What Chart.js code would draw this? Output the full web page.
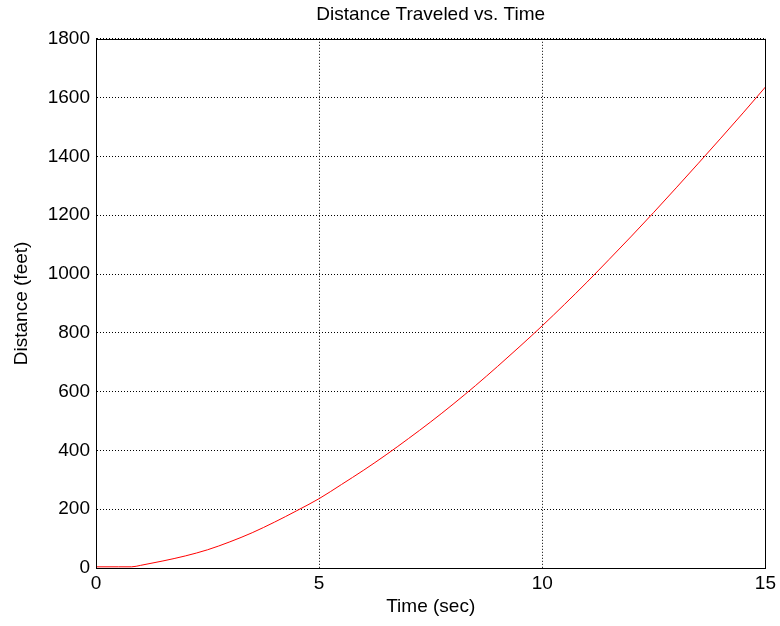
<!DOCTYPE html>
<html>
<head>
<meta charset="utf-8">
<script src="https://cdn.jsdelivr.net/npm/chart.js@4"></script>
<style>
  html, body { margin: 0; padding: 0; background: #fff; }
  #wrap { width: 780px; height: 626px; }
</style>
</head>
<body>
<div id="wrap"><canvas id="chart"></canvas></div>
<script>
// values
const timeSec = [0, 0.5, 0.8, 1, 1.5, 2, 2.5, 3, 3.5, 4, 4.5, 5, 5.5, 6, 6.5, 7, 7.5, 8, 8.5, 9, 9.5, 10, 10.5, 11, 11.5, 12, 12.5, 13, 13.5, 14, 14.5, 15];
const distanceFt = [4, 4, 4, 9, 24, 41, 62, 89, 120, 156, 195, 236, 284, 333, 385, 440, 497, 557, 620, 686, 754, 824, 897, 972, 1050, 1129, 1210, 1293, 1377, 1462, 1548, 1636];

const xTicks = [0, 5, 10, 15];
const yTicks = [0, 200, 400, 600, 800, 1000, 1200, 1400, 1600, 1800];

const FONT = "'Liberation Sans', Arial, sans-serif";

// solid box round the plot area, like the matlab axes frame
const framePlugin = {
  id: "frame",
  afterDraw(chart) {
    const { ctx, chartArea: a } = chart;
    ctx.save();
    ctx.strokeStyle = "#000";
    ctx.lineWidth = 1;
    ctx.strokeRect(Math.round(a.left) + 0.5, Math.round(a.top) + 0.5, Math.round(a.right - a.left), Math.round(a.bottom - a.top));
    ctx.restore();
  },
};

const points = timeSec.map((t, i) => ({ x: t, y: distanceFt[i] }));

new Chart(document.getElementById("chart"), {
  type: "line",
  data: {
    datasets: [
      {
        label: "Distance",
        data: points,
        borderColor: "#ff0000",
        borderWidth: 1,
        pointRadius: 0,
        cubicInterpolationMode: "monotone",
        fill: false,
      },
    ],
  },
  options: {
    responsive: true,
    maintainAspectRatio: false,
    animation: false,
    layout: { padding: { left: 0, right: 14, top: 0, bottom: 0 } },
    plugins: {
      legend: { display: false },
      tooltip: { enabled: false },
      title: {
        display: true,
        fullSize: false,
        text: "Distance Traveled vs. Time",
        color: "#000",
        font: { family: FONT, size: 19, weight: "normal" },
        padding: { top: 3, bottom: 13 },
      },
    },
    scales: {
      x: {
        type: "linear",
        min: 0,
        max: 15,
        afterBuildTicks: (s) => { s.ticks = xTicks.map((v) => ({ value: v })); },
        afterFit: (s) => { s.height = 58; },
        ticks: { color: "#000", padding: 4, font: { family: FONT, size: 19 }, callback: (v) => String(v) },
        grid: { color: "#000", borderDash: [1, 2], drawTicks: false, lineWidth: 1 },
        border: { display: true, color: "#000", dash: [1, 2] },
        title: {
          display: true,
          text: "Time (sec)",
          color: "#000",
          font: { family: FONT, size: 19 },
          padding: { top: 0, bottom: 8 },
        },
      },
      y: {
        type: "linear",
        min: 0,
        max: 1800,
        afterBuildTicks: (s) => { s.ticks = yTicks.map((v) => ({ value: v })); },
        afterFit: (s) => { s.width = 96; },
        ticks: { color: "#000", padding: 6, font: { family: FONT, size: 19 }, callback: (v) => String(v) },
        grid: { color: "#000", borderDash: [1, 2], drawTicks: false, lineWidth: 1 },
        border: { display: true, color: "#000", dash: [1, 2] },
        title: {
          display: true,
          text: "Distance (feet)",
          color: "#000",
          font: { family: FONT, size: 19 },
          padding: { top: 10, bottom: 0 },
        },
      },
    },
  },
  plugins: [framePlugin],
});
</script>
</body>
</html>
